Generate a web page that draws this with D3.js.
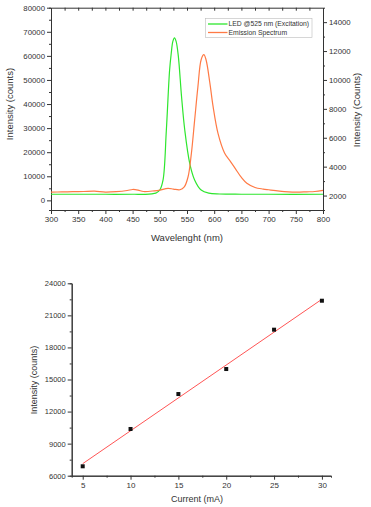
<!DOCTYPE html>
<html>
<head>
<meta charset="utf-8">
<script src="https://cdn.jsdelivr.net/npm/d3@7"></script>
<style>
  body { margin: 0; background: #fff; }
  svg { display: block; font-family: "Liberation Sans", Arial, sans-serif; }
  .tick text { fill: #333; }
  .domain, .tick line { stroke: #333; }
</style>
</head>
<body>
<svg id="chart" width="371" height="507"></svg>
<script>
// top panel: LED excitation (left axis) and emission (right axis)
const ledWavelength = [300, 350, 400, 450, 480, 490, 494, 500, 506, 512, 518, 521, 524, 527, 530, 534, 540, 546, 555, 564, 576, 590, 610, 650, 700, 800];
const ledCounts = [2530, 2530, 2530, 2530, 2600, 2900, 3200, 4300, 8500, 29000, 54000, 61000, 66000, 67500, 66000, 60000, 43000, 29000, 15400, 8500, 4300, 3000, 2650, 2550, 2530, 2530];

const emWavelength = [300, 320, 340, 360, 380, 400, 420, 440, 450, 460, 470, 490, 500, 515, 525, 537, 545, 552, 558, 564, 570, 576, 581, 585, 592, 598, 607, 619, 630, 640, 650, 660, 675, 690, 700, 720, 750, 770, 785, 800];
const emCounts = [2240, 2250, 2270, 2280, 2300, 2240, 2270, 2350, 2420, 2380, 2280, 2330, 2380, 2500, 2450, 2400, 2600, 3300, 4900, 7200, 9500, 11400, 11750, 11400, 9800, 8150, 6300, 4950, 4350, 3800, 3250, 2850, 2560, 2450, 2400, 2310, 2240, 2260, 2280, 2360];

const legendLabels = ["LED @525 nm (Excitation)", "Emission Spectrum"];

// bottom panel: intensity vs current
const currentMA = [5, 10, 15, 20, 25, 30];
const intensity = [6880, 10370, 13640, 15980, 19660, 22370];

const svg = d3.select("#chart");
const green = "#2ee62e", orange = "#ff7a45", red = "#ff5555";
const fmt = d3.format("d");

// ---------- top panel ----------
const x1 = d3.scaleLinear().domain([300, 800]).range([51, 323]);
const yL = d3.scaleLinear().domain([-4000, 80000]).range([210, 7.7]);
const yR = d3.scaleLinear().domain([1000, 15000]).range([210, 7.7]);

const topG = svg.append("g");

// minor ticks first, then the labelled axes
topG.append("g").attr("transform", "translate(0,210)")
  .call(d3.axisBottom(x1).tickValues(d3.range(325, 800, 50)).tickSize(2).tickFormat(""));
topG.append("g").attr("transform", "translate(0,210)")
  .call(d3.axisBottom(x1).tickValues(d3.range(300, 801, 50)).tickSize(4).tickSizeOuter(0).tickPadding(2).tickFormat(fmt))
  .selectAll("text").style("font-size", "8px");
topG.append("g").attr("transform", "translate(0,7.7)")
  .call(d3.axisBottom(x1).tickValues(d3.range(325, 800, 25)).tickSize(3).tickFormat("").tickSizeOuter(0));

topG.append("g").attr("transform", "translate(51,0)")
  .call(d3.axisLeft(yL).tickValues(d3.range(5000, 80000, 10000)).tickSize(2).tickFormat(""));
topG.append("g").attr("transform", "translate(51,0)")
  .call(d3.axisLeft(yL).tickValues(d3.range(0, 80001, 10000)).tickSize(4).tickSizeOuter(0).tickPadding(2).tickFormat(fmt))
  .selectAll("text").style("font-size", "7.8px");

topG.append("g").attr("transform", "translate(323,0)")
  .call(d3.axisRight(yR).tickValues(d3.range(3000, 15000, 2000)).tickSize(2).tickFormat(""));
topG.append("g").attr("transform", "translate(323,0)")
  .call(d3.axisRight(yR).tickValues(d3.range(2000, 14001, 2000)).tickSize(4).tickSizeOuter(0).tickPadding(2).tickFormat(fmt))
  .selectAll("text").style("font-size", "7.8px");

topG.selectAll(".domain").attr("stroke", "#333");

const ledLine = d3.line().x((d, i) => x1(ledWavelength[i])).y(d => yL(d)).curve(d3.curveCatmullRom);
const emLine = d3.line().x((d, i) => x1(emWavelength[i])).y(d => yR(d)).curve(d3.curveCatmullRom);

topG.append("path").datum(ledCounts).attr("d", ledLine)
  .attr("fill", "none").attr("stroke", green).attr("stroke-width", 1.2);
topG.append("path").datum(emCounts).attr("d", emLine)
  .attr("fill", "none").attr("stroke", orange).attr("stroke-width", 1.2);

// legend
const leg = topG.append("g").attr("transform", "translate(205.5,18.5)");
leg.append("rect").attr("width", 106.5).attr("height", 19)
  .attr("fill", "#fff").attr("stroke", "#bbb").attr("stroke-width", 0.6);
legendLabels.forEach((t, i) => {
  const yy = 5.5 + i * 8.5;
  leg.append("line").attr("x1", 2.5).attr("x2", 22).attr("y1", yy).attr("y2", yy)
    .attr("stroke", i === 0 ? green : orange).attr("stroke-width", 1.3);
  leg.append("text").attr("x", 23).attr("y", yy + 2.4).text(t)
    .style("font-size", "6.8px").attr("fill", "#333");
});

topG.append("text").attr("transform", "translate(13,104) rotate(-90)")
  .attr("text-anchor", "middle").style("font-size", "9.5px").attr("fill", "#333")
  .text("Intensity (counts)");
topG.append("text").attr("transform", "translate(360,110) rotate(-90)")
  .attr("text-anchor", "middle").style("font-size", "9.5px").attr("fill", "#333")
  .text("Intensity (Counts)");
topG.append("text").attr("x", 187).attr("y", 241)
  .attr("text-anchor", "middle").style("font-size", "9.5px").attr("fill", "#333")
  .text("Wavelenght (nm)");

// ---------- bottom panel ----------
const x2 = d3.scaleLinear().domain([3.85, 30.95]).range([71.7, 331]);
const y2 = d3.scaleLinear().domain([6000, 24000]).range([475.7, 283.3]);

const bot = svg.append("g");

bot.append("g").attr("transform", "translate(0,475.7)")
  .call(d3.axisBottom(x2).tickValues(d3.range(7.5, 30, 5)).tickSize(2).tickFormat(""));
bot.append("g").attr("transform", "translate(0,475.7)")
  .call(d3.axisBottom(x2).tickValues(d3.range(5, 31, 5)).tickSize(4).tickSizeOuter(0).tickPadding(3).tickFormat(fmt))
  .selectAll("text").style("font-size", "8px");

bot.append("g").attr("transform", "translate(71.7,0)")
  .call(d3.axisLeft(y2).tickValues(d3.range(7500, 24000, 3000)).tickSize(2).tickFormat(""));
bot.append("g").attr("transform", "translate(71.7,0)")
  .call(d3.axisLeft(y2).tickValues(d3.range(6000, 24001, 3000)).tickSize(4).tickSizeOuter(0).tickPadding(2).tickFormat(fmt))
  .selectAll("text").style("font-size", "7.5px");

bot.selectAll(".domain").attr("stroke", "#555");

// least-squares fit line
const mx = d3.mean(currentMA), my = d3.mean(intensity);
const slope = d3.sum(currentMA, (c, i) => (c - mx) * (intensity[i] - my)) / d3.sum(currentMA, c => (c - mx) ** 2);
const icpt = my - slope * mx;
const fitX = d3.extent(currentMA);
bot.append("line")
  .attr("x1", x2(fitX[0])).attr("y1", y2(icpt + slope * fitX[0]))
  .attr("x2", x2(fitX[1])).attr("y2", y2(icpt + slope * fitX[1]))
  .attr("stroke", red).attr("stroke-width", 1);

bot.selectAll("rect.pt").data(intensity).enter().append("rect")
  .attr("class", "pt")
  .attr("x", (d, i) => x2(currentMA[i]) - 2).attr("y", d => y2(d) - 2)
  .attr("width", 4).attr("height", 4).attr("fill", "#111");

bot.append("text").attr("transform", "translate(37,380) rotate(-90)")
  .attr("text-anchor", "middle").style("font-size", "9px").attr("fill", "#333")
  .text("Intensity (counts)");
bot.append("text").attr("x", 197).attr("y", 502)
  .attr("text-anchor", "middle").style("font-size", "9px").attr("fill", "#333")
  .text("Current (mA)");
</script>
</body>
</html>
